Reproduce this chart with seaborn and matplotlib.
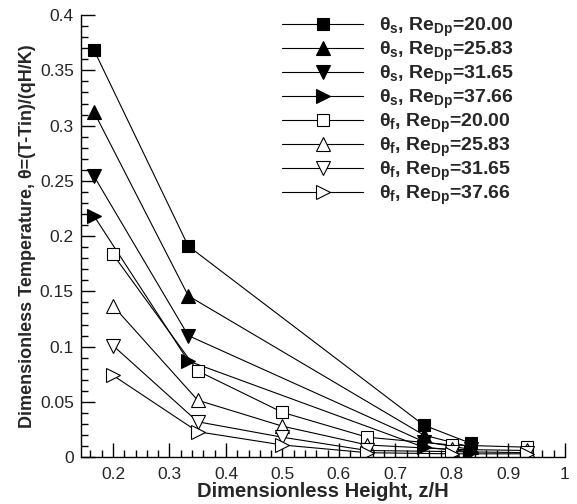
import matplotlib
matplotlib.use("Agg")
import matplotlib.pyplot as plt
from matplotlib.ticker import MultipleLocator
import seaborn as sns
import pandas as pd

sns.set_theme(style="white")
plt.rcParams['font.family'] = ['Liberation Sans', 'DejaVu Sans']
plt.rcParams['mathtext.fontset'] = 'custom'
plt.rcParams['mathtext.rm'] = 'Liberation Sans:bold'
plt.rcParams['mathtext.it'] = 'Liberation Sans:bold'
plt.rcParams['mathtext.bf'] = 'Liberation Sans:bold'

# solid-phase temperatures
z_s = [0.1667, 0.3333, 0.75, 0.8333]
theta_s_20 = [0.368, 0.191, 0.029, 0.0125]
theta_s_25 = [0.312, 0.146, 0.020, 0.009]
theta_s_31 = [0.254, 0.110, 0.014, 0.007]
theta_s_37 = [0.218, 0.087, 0.009, 0.005]

# fluid-phase temperatures
z_f = [0.2, 0.35, 0.5, 0.65, 0.8, 0.933]
theta_f_20 = [0.1835, 0.078, 0.0405, 0.018, 0.011, 0.009]
theta_f_25 = [0.137, 0.0515, 0.028, 0.011, 0.007, 0.006]
theta_f_31 = [0.101, 0.032, 0.018, 0.006, 0.005, 0.004]
theta_f_37 = [0.074, 0.023, 0.011, 0.004, 0.003, 0.003]

labels = [r'$\theta_s$, Re$_{Dp}$=20.00', r'$\theta_s$, Re$_{Dp}$=25.83',
          r'$\theta_s$, Re$_{Dp}$=31.65', r'$\theta_s$, Re$_{Dp}$=37.66',
          r'$\theta_f$, Re$_{Dp}$=20.00', r'$\theta_f$, Re$_{Dp}$=25.83',
          r'$\theta_f$, Re$_{Dp}$=31.65', r'$\theta_f$, Re$_{Dp}$=37.66']

series = [(z_s, theta_s_20, 's', True), (z_s, theta_s_25, '^', True),
          (z_s, theta_s_31, 'v', True), (z_s, theta_s_37, '>', True),
          (z_f, theta_f_20, 's', False), (z_f, theta_f_25, '^', False),
          (z_f, theta_f_31, 'v', False), (z_f, theta_f_37, '>', False)]

fig = plt.figure(figsize=(5.77, 5.04), dpi=100)
ax = fig.add_axes([0.14, 0.093, 0.839, 0.877])

for (x, y, m, filled), lab in zip(series, labels):
    df = pd.DataFrame({'z': x, 't': y})
    sns.lineplot(data=df, x='z', y='t', ax=ax, color='black', linewidth=0.8,
                 marker=m, markersize=9 if m == 's' else 10,
                 markerfacecolor='black' if filled else 'white',
                 markeredgecolor='black', markeredgewidth=0.8,
                 label=lab, sort=False)

ax.set_xlim(0.143, 1.0)
ax.set_ylim(0, 0.4)
ax.xaxis.set_minor_locator(MultipleLocator(0.02))
ax.yaxis.set_minor_locator(MultipleLocator(0.01))
ax.set_xticks([0.2, 0.3, 0.4, 0.5, 0.6, 0.7, 0.8, 0.9, 1.0])
ax.set_xticklabels(['0.2', '0.3', '0.4', '0.5', '0.6', '0.7', '0.8', '0.9', '1'])
ax.set_yticks([0, 0.05, 0.1, 0.15, 0.2, 0.25, 0.3, 0.35, 0.4])
ax.set_yticklabels(['0', '0.05', '0.1', '0.15', '0.2', '0.25', '0.3', '0.35', '0.4'])
ax.tick_params(which='major', direction='in', length=10, width=1, labelsize=12.5,
               color='black', bottom=True, left=True, pad=5)
ax.tick_params(axis='x', which='major', pad=7)
ax.tick_params(which='minor', direction='in', length=5, width=1, color='black',
               bottom=True, left=True)
for s in ['top', 'right']:
    ax.spines[s].set_visible(False)
for s in ['left', 'bottom']:
    ax.spines[s].set_color('black')
    ax.spines[s].set_linewidth(1)

ax.set_xlabel('Dimensionless Height, z/H', fontsize=14.5, fontweight='bold', labelpad=0)
ax.set_ylabel('Dimensionless Temperature, θ=(T-Tin)/(qH/K)', fontsize=13,
              fontweight='bold', labelpad=3)

leg = ax.legend(loc='upper left', bbox_to_anchor=(0.415, 0.998), frameon=False,
                handlelength=4.2, handletextpad=0.8, labelspacing=0.04,
                prop={'weight': 'bold', 'size': 14}, borderaxespad=0, borderpad=0)

fig.savefig('out.png', dpi=100)
